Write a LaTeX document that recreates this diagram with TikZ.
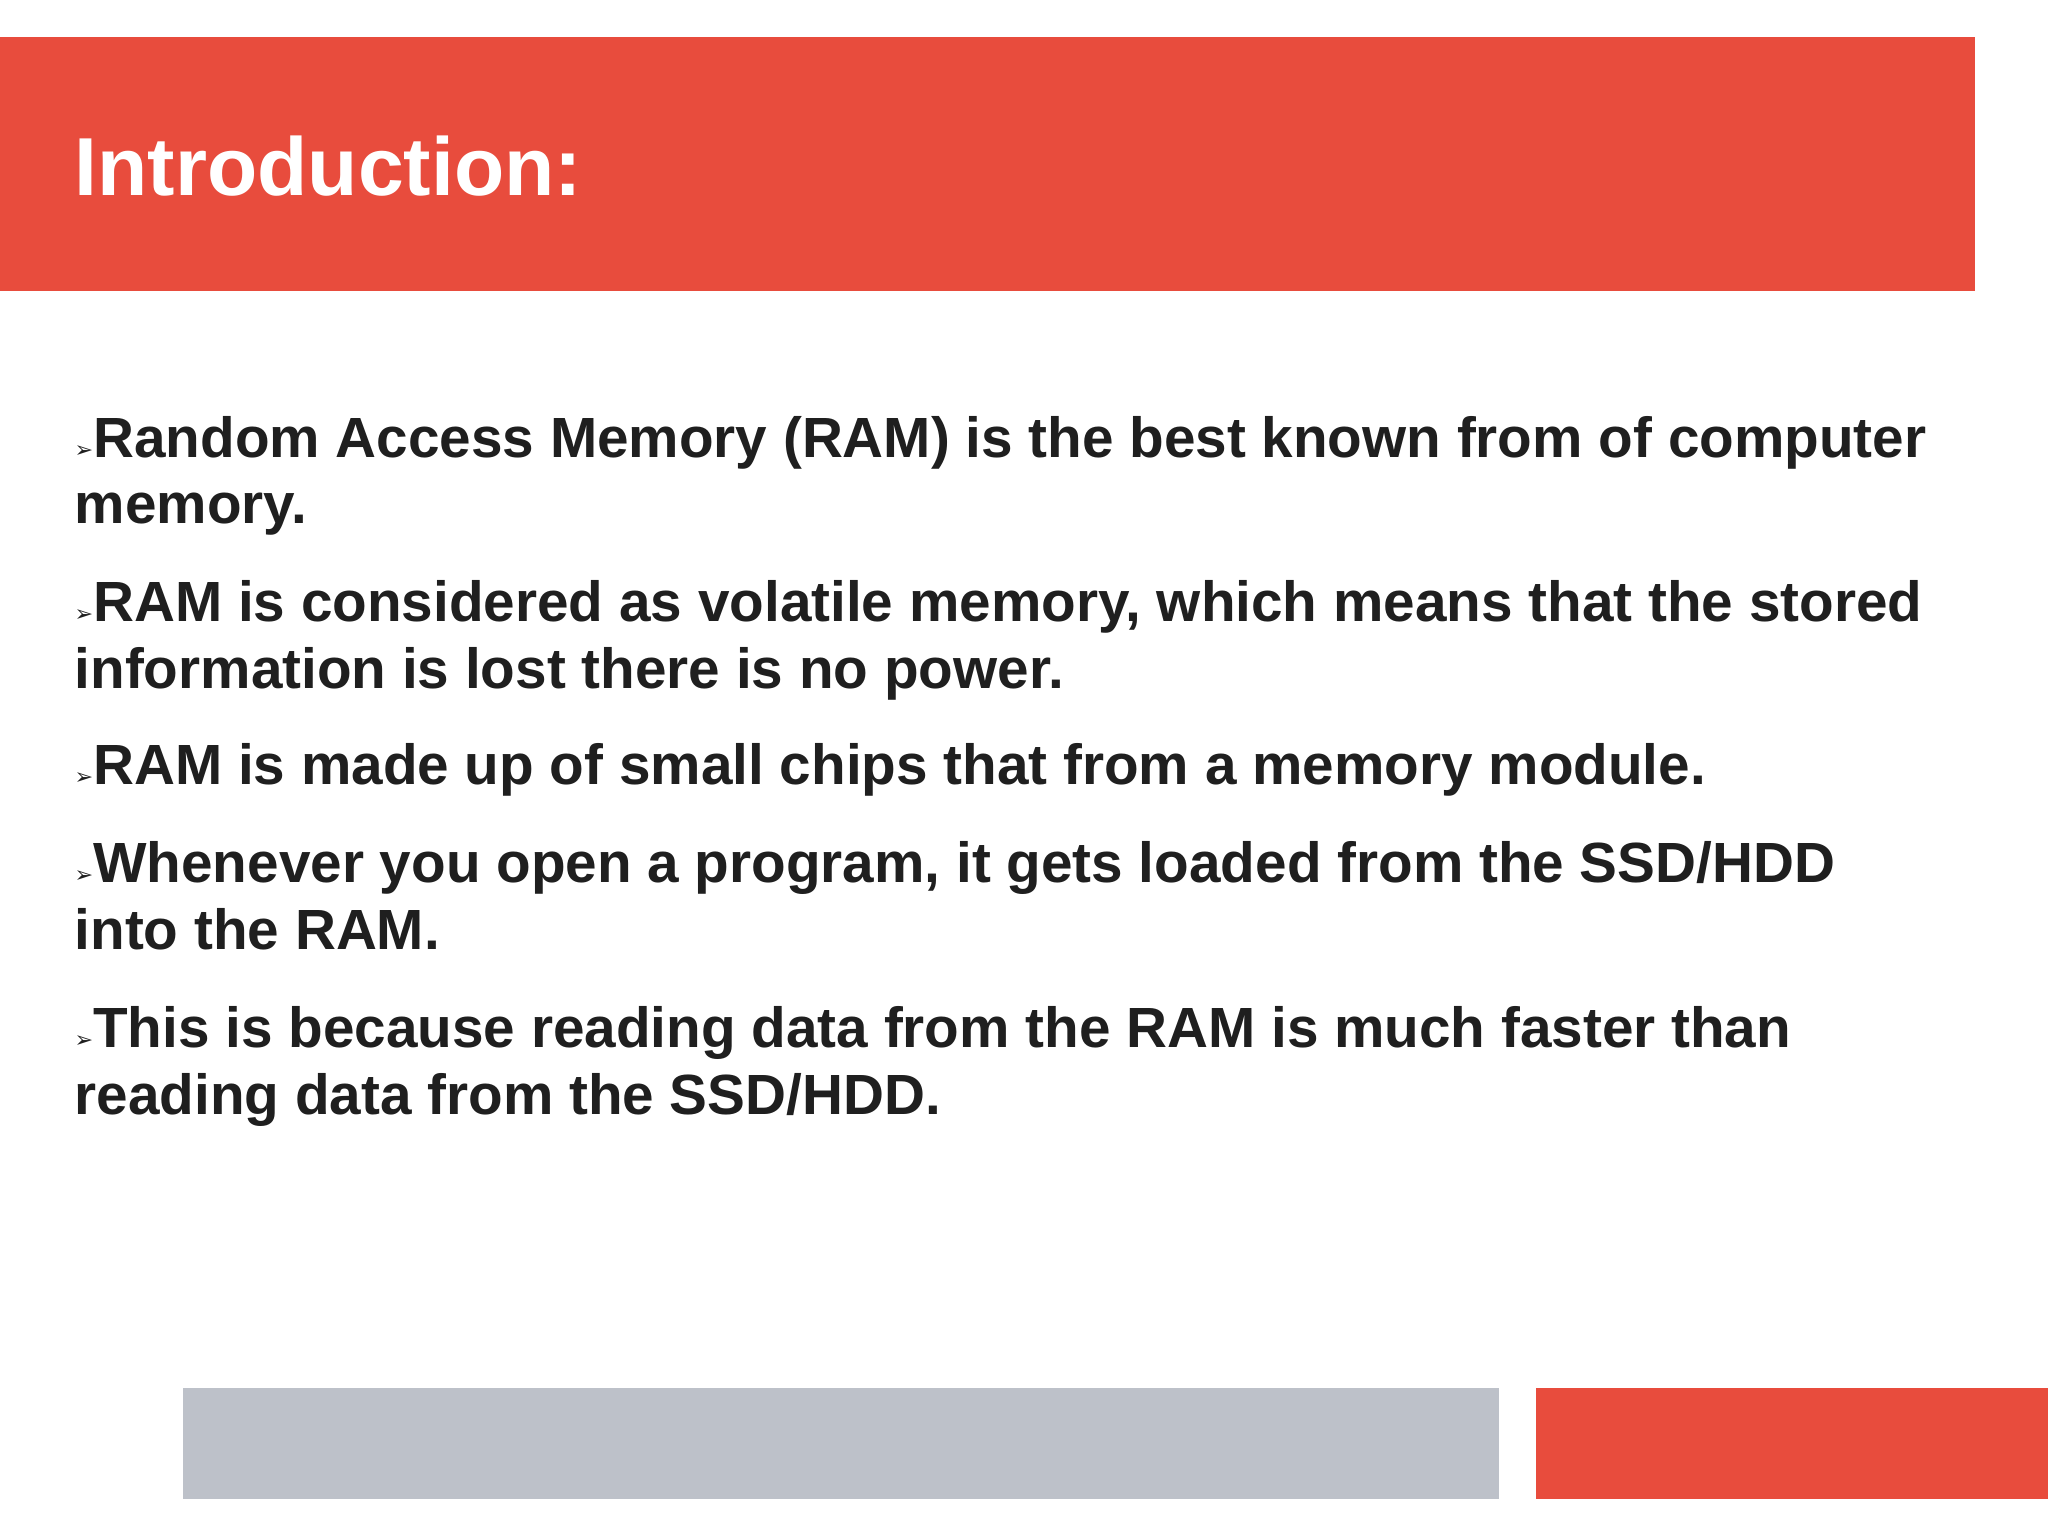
\documentclass[tikz,border=0pt]{standalone}
\usepackage{fontspec}
\setmainfont{Liberation Sans}
\newfontfamily\symf{DejaVu Sans}
\definecolor{slred}{HTML}{E84C3D}
\definecolor{slgray}{HTML}{BDC1C9}
\tikzset{ln/.style={anchor=base west,inner sep=0pt,font=\fontsize{43.4}{46}\selectfont\bfseries,text=black!88}}
\newcommand{\bul}{{\symf\fontsize{17}{17}\selectfont ➢}}
\begin{document}
\begin{tikzpicture}[x=1pt,y=-1pt]
\useasboundingbox (0,0) rectangle (1568,1176);
\fill[white] (0,0) rectangle (1568,1176);
\fill[slred] (0,28) rectangle (1512,223);
\node[anchor=base west,inner sep=0pt,text=white,font=\fontsize{63}{66}\selectfont\bfseries] (title) at (57,150) {Introduction:};
\node[ln] (l1) at (57,350) {\bul Random Access Memory (RAM) is the best known from of computer};
\node[ln] (l2) at (57,401) {memory.};
\node[ln] (l3) at (57,476) {\bul RAM is considered as volatile memory, which means that the stored};
\node[ln] (l4) at (57,527) {information is lost there is no power.};
\node[ln] (l5) at (57,601) {\bul RAM is made up of small chips that from a memory module.};
\node[ln] (l6) at (57,676) {\bul Whenever you open a program, it gets loaded from the SSD/HDD};
\node[ln] (l7) at (57,727) {into the RAM.};
\node[ln] (l8) at (57,802) {\bul This is because reading data from the RAM is much faster than};
\node[ln] (l9) at (57,853) {reading data from the SSD/HDD.};
\fill[slgray] (140,1063) rectangle (1148,1148);
\fill[slred] (1176,1063) rectangle (1568,1148);
\end{tikzpicture}
\end{document}
